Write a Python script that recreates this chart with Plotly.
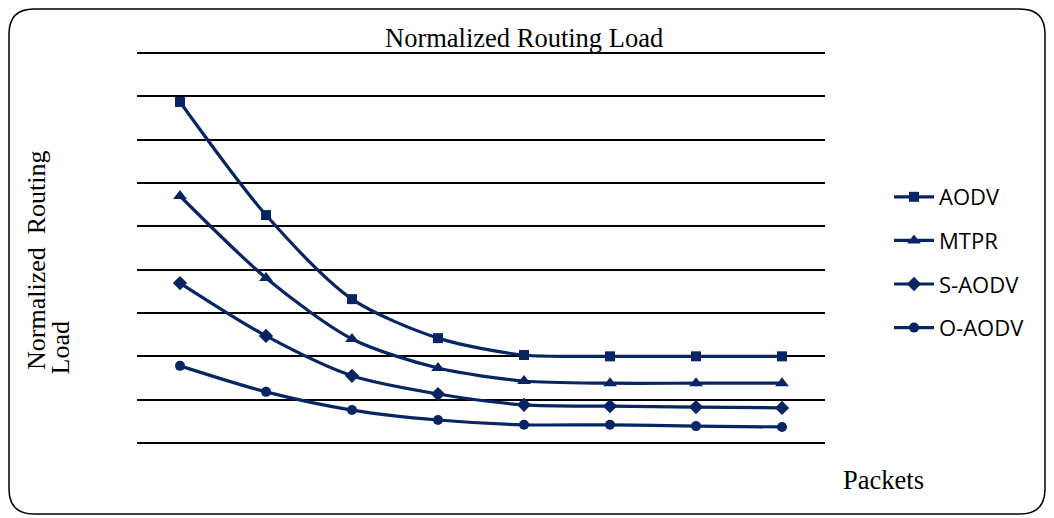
import plotly.graph_objects as go

packets = [1, 2, 3, 4, 5, 6, 7, 8]
series_names = ["AODV", "MTPR", "S-AODV", "O-AODV"]
aodv = [7.87, 5.26, 3.32, 2.42, 2.03, 2.0, 2.0, 2.0]
mtpr = [5.70, 3.81, 2.40, 1.73, 1.43, 1.38, 1.38, 1.38]
s_aodv = [3.69, 2.47, 1.55, 1.13, 0.88, 0.85, 0.83, 0.81]
o_aodv = [1.78, 1.18, 0.76, 0.53, 0.42, 0.42, 0.39, 0.37]
symbols = ["square", "triangle-up", "diamond", "circle"]
marker_sizes = [10, 12, 11, 10]

COLOR = "#082563"

# figure geometry (page body adds an 8px offset)
W, H = 1046, 510
PL, PR, PT, PB = 129, 229, 43, 75
PW, PH = W - PL - PR, H - PT - PB


def px(x):
    return (x - PL) / PW


def py(y):
    return (H - PB - y) / PH


fig = go.Figure()
for name, vals, sym, ms in zip(series_names, [aodv, mtpr, s_aodv, o_aodv], symbols, marker_sizes):
    fig.add_trace(go.Scatter(
        x=[str(p) for p in packets], y=vals, name=name, mode="lines+markers",
        line=dict(color=COLOR, width=3.2, shape="spline", smoothing=0.8),
        marker=dict(symbol=sym, size=ms, color=COLOR),
        legendgroup=name,
    ))

fig.update_layout(
    width=W, height=H,
    margin=dict(l=PL, r=PR, t=PT, b=PB),
    plot_bgcolor="white", paper_bgcolor="white",
    showlegend=True,
    legend=dict(x=px(881), y=py(168), xanchor="left", yanchor="top",
                font=dict(family="Open Sans, Liberation Sans, sans-serif", size=22, color="black"),
                tracegroupgap=12, traceorder="grouped", itemwidth=40,
                bgcolor="rgba(0,0,0,0)"),
    xaxis=dict(type="category", range=[-0.5, 7.5], showticklabels=False, showgrid=False,
               zeroline=False, showline=False, ticks=""),
    yaxis=dict(range=[0, 9.046], dtick=1, showticklabels=False, showgrid=True,
               gridcolor="black", gridwidth=1.5, zeroline=True, zerolinecolor="black",
               zerolinewidth=1.5, showline=False, ticks=""),
    font=dict(family="Liberation Serif, Times New Roman, serif", color="black"),
)

fig.add_annotation(text="Normalized Routing Load", xref="paper", yref="paper",
                   x=px(516), y=py(30), xanchor="center", yanchor="middle",
                   showarrow=False, font=dict(size=26.5))
fig.add_annotation(text="Normalized  Routing", xref="paper", yref="paper",
                   x=px(28), y=py(252), xanchor="center", yanchor="middle", textangle=-90,
                   showarrow=False, font=dict(size=26))
fig.add_annotation(text="Load", xref="paper", yref="paper",
                   x=px(52), y=py(369), xanchor="center", yanchor="bottom", textangle=-90,
                   showarrow=False, font=dict(size=26))
fig.add_annotation(text="Packets", xref="paper", yref="paper",
                   x=px(833), y=py(472), xanchor="left", yanchor="middle",
                   showarrow=False, font=dict(size=26.5))

# rounded border
x0, y0, x1, y1, r = 1, 1, 1037, 506, 25
pts = [("M", x0 + r, y0), ("L", x1 - r, y0), ("Q", x1, y0, x1, y0 + r), ("L", x1, y1 - r),
       ("Q", x1, y1, x1 - r, y1), ("L", x0 + r, y1), ("Q", x0, y1, x0, y1 - r),
       ("L", x0, y0 + r), ("Q", x0, y0, x0 + r, y0)]
parts = []
for p in pts:
    cmd, coords = p[0], p[1:]
    xy = " ".join(f"{px(coords[i]):.5f},{py(coords[i+1]):.5f}" for i in range(0, len(coords), 2))
    parts.append(f"{cmd} {xy}")
fig.add_shape(type="path", path=" ".join(parts) + " Z", xref="paper", yref="paper",
              line=dict(color="black", width=1.5), layer="below")

fig.write_html("out.html")
